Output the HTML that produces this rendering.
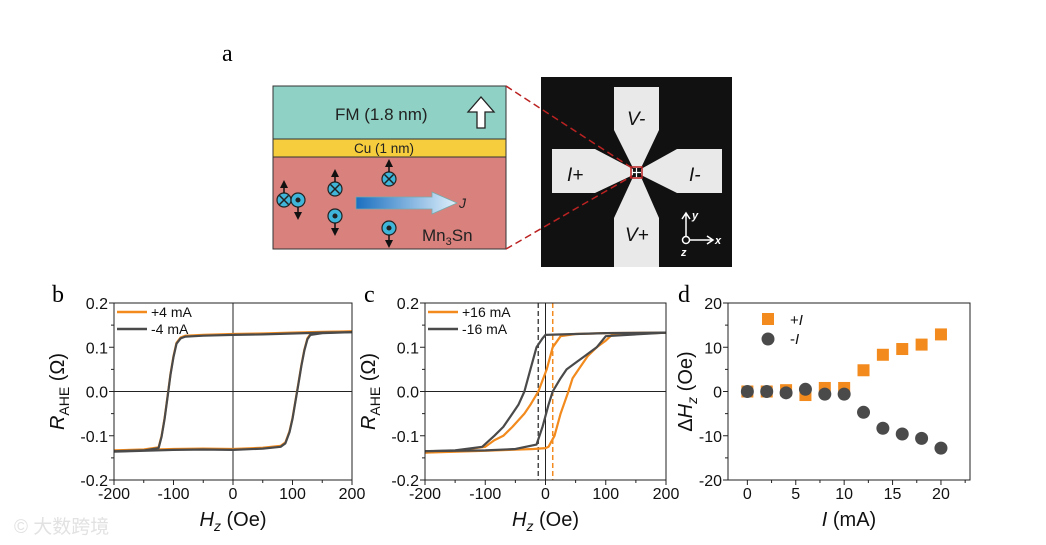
<!DOCTYPE html>
<html><head><meta charset="utf-8"><style>
html,body{margin:0;padding:0;background:#fff}
svg{display:block}
text{font-family:"Liberation Sans",Arial,sans-serif}
</style></head><body>
<svg id="fig" width="1046" height="545" viewBox="0 0 1046 545" xmlns="http://www.w3.org/2000/svg">
<text x="222" y="61" font-family="Liberation Serif" font-size="24" style="font-family:'Liberation Serif',serif">a</text>
<g>
<rect x="273" y="86" width="233" height="53" fill="#8fd1c4" stroke="#333" stroke-width="1"/>
<rect x="273" y="139" width="233" height="18" fill="#f6cd3c" stroke="#333" stroke-width="1"/>
<rect x="273" y="157" width="233" height="92" fill="#d9817d" stroke="#333" stroke-width="1"/>
<text x="335" y="120" font-size="17" fill="#222">FM (1.8 nm)</text>
<path d="M477 128 L477 112 L468 112 L481 97 L494 112 L485 112 L485 128 Z" fill="#fff" stroke="#222" stroke-width="1.3"/>
<text x="354" y="153" font-size="13.5" fill="#222">Cu (1 nm)</text>
<text x="422" y="241" font-size="17" fill="#222">Mn<tspan font-size="11" dy="4">3</tspan><tspan dy="-4">Sn</tspan></text>
<defs><linearGradient id="jg" x1="0" x2="1"><stop offset="0" stop-color="#1a6fc0"/><stop offset="1" stop-color="#dff0fb"/></linearGradient></defs>
<path d="M356 197 L432 197 L432 192 L457 203 L432 214 L432 209 L356 209 Z" fill="url(#jg)" stroke="#7aa" stroke-width="0.8"/>
<text x="459" y="208" font-size="14" font-style="italic" fill="#222">J</text>
<g fill="#3fb5d9" stroke="#222" stroke-width="1.2">
<circle cx="284" cy="200" r="7"/><circle cx="298" cy="200" r="7"/>
<circle cx="335" cy="189" r="7"/><circle cx="335" cy="216" r="7"/>
<circle cx="389" cy="179" r="7"/><circle cx="389" cy="228" r="7"/>
</g>
<g stroke="#222" stroke-width="1.5" fill="#222">
<path d="M279.5 195.5 L288.5 204.5 M288.5 195.5 L279.5 204.5 M330.5 184.5 L339.5 193.5 M339.5 184.5 L330.5 193.5 M384.5 174.5 L393.5 183.5 M393.5 174.5 L384.5 183.5"/>
<circle cx="298" cy="200" r="1.8"/><circle cx="335" cy="216" r="1.8"/><circle cx="389" cy="228" r="1.8"/>
</g>
<g fill="#111">
<path d="M284 193 L284 186" stroke="#111" stroke-width="1.5"/><path d="M280 188 L284 180 L288 188 Z"/>
<path d="M298 207 L298 214" stroke="#111" stroke-width="1.5"/><path d="M294 212 L298 220 L302 212 Z"/>
<path d="M335 182 L335 175" stroke="#111" stroke-width="1.5"/><path d="M331 177 L335 169 L339 177 Z"/>
<path d="M335 223 L335 230" stroke="#111" stroke-width="1.5"/><path d="M331 228 L335 236 L339 228 Z"/>
<path d="M389 172 L389 166" stroke="#111" stroke-width="1.5"/><path d="M385 167 L389 159 L393 167 Z"/>
<path d="M389 235 L389 241" stroke="#111" stroke-width="1.5"/><path d="M385 240 L389 248 L393 240 Z"/>
</g>
</g>
<g>
<rect x="541" y="77" width="191" height="190" fill="#111"/>
<g fill="#e9e9e9">
<path d="M614 87 L659 87 L659 130 L641 168 L633 168 L614 130 Z"/>
<path d="M614 267 L659 267 L659 218 L641 177 L633 177 L614 218 Z"/>
<path d="M552 149 L595 149 L633 169 L633 175 L595 193 L552 193 Z"/>
<path d="M722 149 L677 149 L641 169 L641 175 L677 193 L722 193 Z"/>
</g>
<rect x="631" y="167" width="11" height="11" fill="none" stroke="#b22" stroke-width="1.5"/>
<path d="M636.5 168 L636.5 177 M632 172.5 L641 172.5" stroke="#fff" stroke-width="1.2"/>
<text x="627" y="125" font-size="19" font-style="italic" fill="#111">V-</text>
<text x="625" y="241" font-size="19" font-style="italic" fill="#111">V+</text>
<text x="567" y="181" font-size="19" font-style="italic" fill="#111">I+</text>
<text x="689" y="181" font-size="19" font-style="italic" fill="#111">I-</text>
<g stroke="#fff" stroke-width="1.5" fill="none">
<circle cx="686" cy="240" r="3.5"/><path d="M686 236 L686 214 M682 219 L686 213 L690 219 M690 240 L712 240 M707 236 L713 240 L707 244"/>
</g>
<text x="692" y="219" font-size="11" font-weight="bold" font-style="italic" fill="#fff">y</text>
<text x="715" y="244" font-size="11" font-weight="bold" font-style="italic" fill="#fff">x</text>
<text x="681" y="256" font-size="11" font-weight="bold" font-style="italic" fill="#fff">z</text>
</g>
<path d="M506 86 L632 168 M506 249 L632 176" stroke="#b22" stroke-width="1.5" stroke-dasharray="7,4" fill="none"/>
<text x="52" y="302" font-size="24" style="font-family:'Liberation Serif',serif">b</text>
<text x="364" y="302" font-size="24" style="font-family:'Liberation Serif',serif">c</text>
<text x="678" y="302" font-size="24" style="font-family:'Liberation Serif',serif">d</text>
<g id="pb"></g><g id="pc"></g><g id="pd"></g>
<text x="14" y="533" font-size="19" fill="#e2e2e2" style="font-family:'Liberation Sans','Noto Sans CJK SC',sans-serif">© 大数跨境</text>
</svg>
<script>
// Panel b data
const bDownH=[200,150,100,50,0,-50,-80,-88,-95,-100,-105,-110,-115,-120,-125,-150,-200];
const bDownR=[0.136,0.135,0.133,0.131,0.130,0.128,0.126,0.122,0.110,0.080,0.040,-0.010,-0.060,-0.100,-0.126,-0.131,-0.133];
const bUpH=[-200,-150,-100,-50,0,50,80,88,95,100,105,110,115,120,125,130,150,200];
const bUpR=[-0.134,-0.132,-0.130,-0.129,-0.130,-0.127,-0.123,-0.115,-0.090,-0.060,-0.020,0.020,0.060,0.095,0.120,0.130,0.134,0.136];
// Panel c data
const cGrayDownH=[200,100,50,0,-5,-15,-25,-35,-45,-55,-70,-85,-105,-150,-200];
const cGrayDownR=[0.133,0.132,0.130,0.128,0.120,0.100,0.050,0.000,-0.030,-0.050,-0.080,-0.100,-0.125,-0.133,-0.135];
const cGrayUpH=[-200,-100,-50,-15,-5,5,12,25,35,50,65,85,100,200];
const cGrayUpR=[-0.135,-0.133,-0.130,-0.120,-0.080,-0.030,0.000,0.030,0.050,0.065,0.080,0.100,0.125,0.133];
const cOrDownH=[200,100,50,25,12,2,-12,-25,-35,-55,-70,-85,-100,-150,-200];
const cOrDownR=[0.133,0.132,0.130,0.125,0.100,0.050,0.000,-0.030,-0.050,-0.080,-0.100,-0.110,-0.125,-0.134,-0.138];
const cOrUpH=[-200,-100,-20,0,5,15,25,38,45,55,70,85,100,110,200];
const cOrUpR=[-0.138,-0.134,-0.130,-0.128,-0.125,-0.100,-0.050,0.000,0.030,0.050,0.080,0.100,0.115,0.128,0.133];
const cDash=[-12,12];
// Panel d data
const dI=[0,2,4,6,8,10,12,14,16,18,20];
const dPlus=[0,0,0.3,-0.8,0.8,0.8,4.8,8.3,9.6,10.6,12.9];
const dMinus=[0,0,-0.3,0.5,-0.6,-0.6,-4.7,-8.3,-9.6,-10.6,-12.8];
const hTicks=[-200,-100,0,100,200];
const rTicks=[-0.2,-0.1,0.0,0.1,0.2];
const dxTicks=[0,5,10,15,20];
const dyTicks=[-20,-10,0,10,20];

const NS="http://www.w3.org/2000/svg";
function mk(p,tag,at){const e=document.createElementNS(NS,tag);for(const k in at)e.setAttribute(k,at[k]);p.appendChild(e);return e;}
function scale(d0,d1,r0,r1){return v=>r0+(v-d0)/(d1-d0)*(r1-r0);}
const OR="#f28a1d",GR="#4a4a4a";

function frame(g,L,R,T,B,xs,ys,xt,yt,fmtY,minorX,minorY){
  const box=mk(g,'rect',{x:L,y:T,width:R-L,height:B-T,fill:'none',stroke:'#222','stroke-width':1});
  
  
  xt.forEach(v=>{const x=xs(v);
    mk(g,'line',{x1:x,x2:x,y1:B,y2:B+5,stroke:'#222'});
    const t=mk(g,'text',{x:x,y:B+19,'font-size':16,'text-anchor':'middle',fill:'#111'});t.textContent=v;
    
    });
  minorX.forEach(v=>{const x=xs(v);mk(g,'line',{x1:x,x2:x,y1:B,y2:B+3,stroke:'#222'});});
  yt.forEach(v=>{const y=ys(v);
    mk(g,'line',{x1:L-5,x2:L,y1:y,y2:y,stroke:'#222'});
    const t=mk(g,'text',{x:L-6,y:y+6,'font-size':16,'text-anchor':'end',fill:'#111'});t.textContent=fmtY(v);
    
    });
  minorY.forEach(v=>{const y=ys(v);mk(g,'line',{x1:L-3,x2:L,y1:y,y2:y,stroke:'#222'});});
}
function line(g,xs,ys,H,R,col,name){
  const p=mk(g,'path',{d:H.map((h,i)=>(i?'L':'M')+xs(h).toFixed(1)+' '+ys(R[i]).toFixed(1)).join(' '),fill:'none',stroke:col,'stroke-width':2.2,'stroke-linejoin':'round'});
  
  
}
function hyst(id,L,R,T,B,series,legend,dash){
  const g=document.getElementById(id);
  const xs=scale(-200,200,L,R),ys=scale(-0.2,0.2,B,T);
  mk(g,'line',{x1:xs(0),x2:xs(0),y1:T,y2:B,stroke:'#222'});
  mk(g,'line',{x1:L,x2:R,y1:ys(0),y2:ys(0),stroke:'#222'});
  if(dash){dash.forEach((v,i)=>{const l=mk(g,'line',{x1:xs(v),x2:xs(v),y1:T,y2:B,stroke:i?OR:GR,'stroke-width':1.5,'stroke-dasharray':'5,3'});
    
    });}
  series.forEach(s=>line(g,xs,ys,s[0],s[1],s[2],s[3]));
  frame(g,L,R,T,B,xs,ys,hTicks,rTicks,v=>v.toFixed(1),[-150,-50,50,150],[-0.15,-0.05,0.05,0.15]);
  legend.forEach((lg,i)=>{const y=T+9+i*17;
    mk(g,'line',{x1:L+3,x2:L+33,y1:y,y2:y,stroke:lg[1],'stroke-width':2.5});
    const t=mk(g,'text',{x:L+37,y:y+5,'font-size':14,fill:'#111'});t.textContent=lg[0];
    
    });
  const yl=mk(g,'text',{transform:`translate(${L-50},${(T+B)/2}) rotate(-90)`,'font-size':20,'text-anchor':'middle',fill:'#111'});
  yl.innerHTML='<tspan font-style="italic">R</tspan><tspan font-size="14" dy="5">AHE</tspan><tspan dy="-5"> (Ω)</tspan>';
  
  
  const xl=mk(g,'text',{x:(L+R)/2,y:B+46,'font-size':20,'text-anchor':'middle',fill:'#111'});
  xl.innerHTML='<tspan font-style="italic">H</tspan><tspan font-size="14" font-style="italic" dy="5">z</tspan><tspan dy="-5"> (Oe)</tspan>';
  
  
}
hyst('pb',114,352,303,480,[[bDownH,bDownR,OR,'series-plus-4ma-down'],[bUpH,bUpR,OR,'series-plus-4ma-up'],
  [bDownH,bDownR.map(v=>v-0.002),GR,'series-minus-4ma-down'],[bUpH,bUpR.map(v=>v-0.002),GR,'series-minus-4ma-up']],
  [['+4 mA',OR],['-4 mA',GR]],null);
hyst('pc',425,666,303,480,[[cOrDownH,cOrDownR,OR,'series-plus-16ma-down'],[cOrUpH,cOrUpR,OR,'series-plus-16ma-up'],
  [cGrayDownH,cGrayDownR,GR,'series-minus-16ma-down'],[cGrayUpH,cGrayUpR,GR,'series-minus-16ma-up']],
  [['+16 mA',OR],['-16 mA',GR]],cDash);

(function(){
  const g=document.getElementById('pd');
  const L=728,R=970,T=303,B=480;
  const xs=scale(-2,23,L,R),ys=scale(-20,20,B,T);
  frame(g,L,R,T,B,xs,ys,dxTicks,dyTicks,v=>v,[2.5,7.5,12.5,17.5,22.5],[-15,-5,5,15]);
  dI.forEach((v,i)=>{const r=mk(g,'rect',{x:xs(v)-6,y:ys(dPlus[i])-6,width:12,height:12,fill:OR});
    
    });
  dI.forEach((v,i)=>{const c=mk(g,'circle',{cx:xs(v),cy:ys(dMinus[i]),r:6.5,fill:GR});
    
    });
  mk(g,'rect',{x:L+34,y:T+10,width:12,height:12,fill:OR});
  mk(g,'circle',{cx:L+40,cy:T+36,r:6.5,fill:GR});
  const t1=mk(g,'text',{x:L+62,y:T+22,'font-size':15,fill:'#111'});t1.innerHTML='+<tspan font-style="italic">I</tspan>';
  
  
  const t2=mk(g,'text',{x:L+62,y:T+41,'font-size':15,fill:'#111'});t2.innerHTML='-<tspan font-style="italic">I</tspan>';
  
  
  const yl=mk(g,'text',{transform:`translate(${L-36},${(T+B)/2}) rotate(-90)`,'font-size':20,'text-anchor':'middle',fill:'#111'});
  yl.innerHTML='Δ<tspan font-style="italic">H</tspan><tspan font-size="14" font-style="italic" dy="5">z</tspan><tspan dy="-5"> (Oe)</tspan>';
  
  
  const xl=mk(g,'text',{x:(L+R)/2,y:B+46,'font-size':20,'text-anchor':'middle',fill:'#111'});
  xl.innerHTML='<tspan font-style="italic">I</tspan>  (mA)';
  
  
})();
</script>
</body></html>
